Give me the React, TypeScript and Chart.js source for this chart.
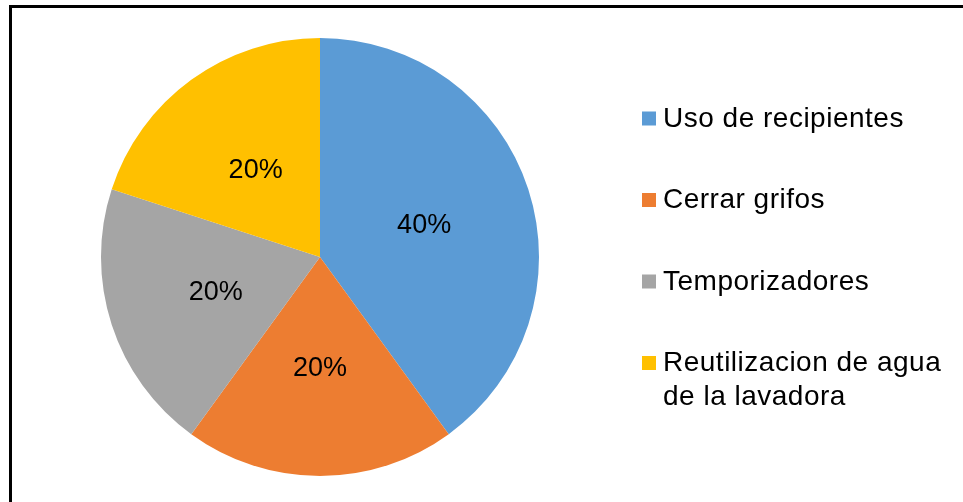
import React, { useEffect, useRef } from "react";
import { Chart, registerables } from "chart.js";

Chart.register(...registerables);

const categories: string[] = [
  "Uso de recipientes",
  "Cerrar grifos",
  "Temporizadores",
  "Reutilizacion de agua de la lavadora",
];
const values: number[] = [40, 20, 20, 20];
const colors: string[] = ["#5B9BD5", "#ED7D31", "#A5A5A5", "#FFC000"];

const FONT = "'Liberation Sans', Arial, sans-serif";

const sliceLabels = {
  id: "sliceLabels",
  afterDatasetsDraw(chart: any) {
    const ctx = chart.ctx as CanvasRenderingContext2D;
    const meta = chart.getDatasetMeta(0);
    const data = chart.data.datasets[0].data as number[];
    const total = data.reduce((a, b) => a + b, 0);
    ctx.save();
    ctx.font = `27px ${FONT}`;
    ctx.fillStyle = "#000";
    ctx.textAlign = "center";
    ctx.textBaseline = "alphabetic";
    meta.data.forEach((arc: any, i: number) => {
      const p = arc.getCenterPoint();
      const txt = Math.round((data[i] / total) * 100) + "%";
      ctx.fillText(txt, p.x, p.y + 9.5);
    });
    ctx.restore();
  },
};

const sideLegend = {
  id: "sideLegend",
  afterDraw(chart: any) {
    const ctx = chart.ctx as CanvasRenderingContext2D;
    const labels = chart.data.labels as string[];
    const bg = chart.data.datasets[0].backgroundColor as string[];
    const markerX = 642;
    const textX = 663;
    const firstBaseline = 126.5;
    const rowGap = 81.5;
    const lineHeight = 33.5;
    const maxWidth = 963 - textX - 8;
    ctx.save();
    ctx.font = `28px ${FONT}`;
    (ctx as any).letterSpacing = "0.5px";
    ctx.textAlign = "left";
    ctx.textBaseline = "alphabetic";
    labels.forEach((label, i) => {
      const base = firstBaseline + i * rowGap;
      ctx.fillStyle = bg[i];
      ctx.fillRect(markerX, base - 15, 14, 14);
      const words = label.split(" ");
      const lines: string[] = [];
      let cur = "";
      words.forEach((w) => {
        const test = cur ? cur + " " + w : w;
        if (ctx.measureText(test).width > maxWidth && cur) {
          lines.push(cur);
          cur = w;
        } else {
          cur = test;
        }
      });
      if (cur) lines.push(cur);
      ctx.fillStyle = "#000";
      lines.forEach((ln, j) => {
        ctx.fillText(ln, textX, base + j * lineHeight);
      });
    });
    ctx.restore();
  },
};

export default function App() {
  const ref = useRef<HTMLCanvasElement | null>(null);

  useEffect(() => {
    document.body.style.margin = "0";
    if (!ref.current) return;
    const chart = new Chart(ref.current, {
      type: "pie",
      data: {
        labels: categories,
        datasets: [
          {
            data: values,
            backgroundColor: colors,
            borderWidth: 0,
          },
        ],
      },
      options: {
        animation: false,
        responsive: false,
        maintainAspectRatio: false,
        layout: { padding: { left: 100, right: 423, top: 38, bottom: 26 } },
        plugins: {
          legend: { display: false },
          tooltip: { enabled: false },
          title: { display: false },
        },
      },
      plugins: [sliceLabels, sideLegend],
    });
    return () => chart.destroy();
  }, []);

  return (
    <div style={{ position: "relative", width: 963, height: 502, background: "#fff", overflow: "hidden" }}>
      <canvas ref={ref} width={963} height={502} style={{ position: "absolute", left: 0, top: 0 }} />
      <div
        style={{
          position: "absolute",
          left: 9,
          top: 5,
          width: 1000,
          height: 600,
          borderTop: "3px solid #000",
          borderLeft: "3px solid #000",
          boxSizing: "border-box",
          pointerEvents: "none",
        }}
      />
    </div>
  );
}
